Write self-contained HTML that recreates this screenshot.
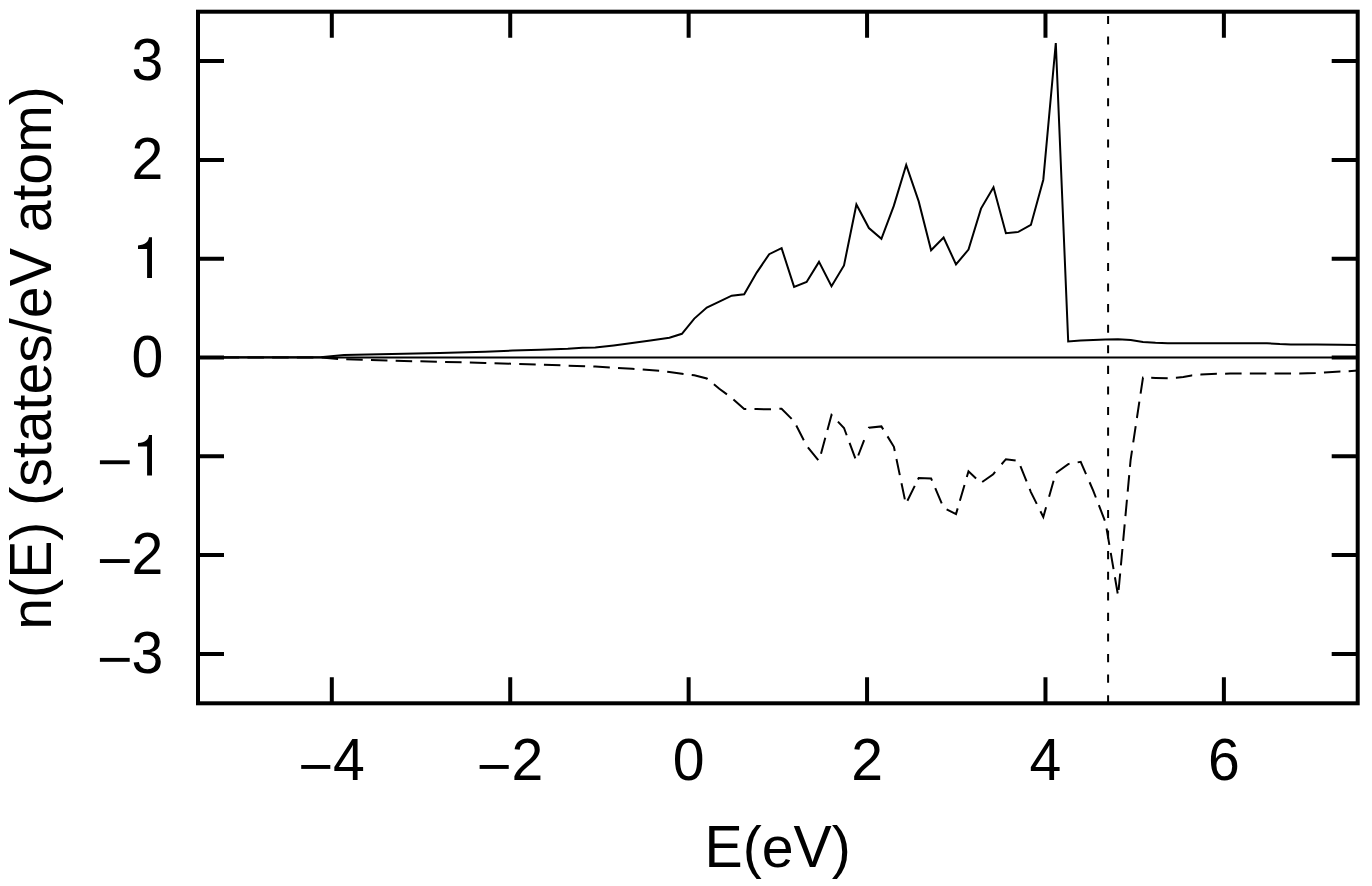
<!DOCTYPE html>
<html><head><meta charset="utf-8"><title>DOS</title>
<style>html,body{margin:0;padding:0;background:#fff;overflow:hidden;}svg{display:block;position:absolute;left:0;top:0;}</style>
</head><body>
<svg width="1372" height="886" viewBox="0 0 1372 886">
<rect x="0" y="0" width="1372" height="886" fill="#fff"/>
<line x1="198.0" y1="357.50" x2="1357.7" y2="357.50" stroke="#000" stroke-width="1.9"/>
<polyline points="198.0,357.3 320.5,357.2 344.0,354.9 440.0,352.9 457.6,352.5 485.1,351.7 512.7,350.6 540.2,349.7 567.8,348.8 582.5,347.8 595.3,347.5 613.7,345.5 632.1,343.1 650.4,340.5 669.4,337.8 681.9,333.8 694.3,318.6 706.8,307.6 719.3,301.7 731.7,295.7 744.2,294.3 756.7,272.6 769.2,254.2 781.6,248.2 794.1,286.9 806.6,282.0 819.0,261.9 831.5,286.3 844.0,265.4 856.4,204.5 868.9,228.0 881.4,238.8 893.8,205.9 906.2,164.9 918.7,201.4 931.1,250.3 943.6,237.5 956.0,264.4 968.5,249.6 981.0,208.6 993.5,187.3 1005.9,233.2 1018.4,231.9 1030.9,224.9 1043.3,179.7 1055.8,43.0 1068.2,341.5 1080.6,340.6 1093.2,339.9 1105.6,339.5 1118.0,339.2 1130.7,339.9 1143.0,341.9 1155.5,342.7 1167.8,343.2 1267.0,343.3 1279.8,344.1 1290.8,344.4 1316.5,344.6 1340.0,344.8 1357.8,345.0" fill="none" stroke="#000" stroke-width="2.0" stroke-linejoin="miter" stroke-miterlimit="4"/>
<path d="M198.00,357.50 L214.50,357.50 M222.72,357.50 L239.22,357.50 M247.44,357.50 L263.94,357.50 M272.16,357.50 L288.66,357.50 M296.88,357.50 L313.38,357.50 M321.60,357.59 L338.00,359.00 L338.04,359.00 M346.25,359.28 L362.00,359.80 L362.74,359.82 M370.96,360.04 L387.45,360.48 M395.67,360.70 L412.16,361.14 M420.38,361.36 L436.88,361.80 M445.09,361.99 L461.59,362.36 M469.81,362.55 L485.10,362.90 L486.30,362.94 M494.52,363.19 L511.01,363.70 M519.23,363.95 L535.72,364.46 M543.93,364.74 L560.42,365.33 M568.64,365.63 L585.13,366.23 M593.34,366.53 L595.30,366.60 L609.81,367.47 M618.02,367.96 L632.10,368.80 L634.49,368.97 M642.69,369.57 L659.14,370.77 M667.20,371.73 L669.40,372.00 L681.90,373.80 L683.54,374.00 M691.70,374.99 L694.30,375.30 L706.80,378.50 L707.55,379.12 M713.90,384.35 L719.30,388.80 L726.96,394.42 M733.44,399.46 L744.20,409.10 L746.26,409.10 M754.48,409.10 L756.70,409.10 L769.20,409.20 L770.97,409.13 M779.40,408.79 L781.60,408.70 L791.67,418.85 M796.28,425.55 L803.80,440.23 M807.90,447.32 L818.25,460.17 M820.99,453.78 L825.30,437.85 M827.45,429.92 L831.50,415.00 L832.22,415.75 M837.92,421.68 L844.00,428.00 L846.69,435.24 M849.56,442.95 L855.31,458.41 M858.23,455.50 L864.14,440.10 M868.73,428.13 L868.90,427.70 L881.40,426.40 L883.21,429.36 M887.51,436.36 L893.90,446.80 L894.77,450.97 M896.45,459.02 L899.81,475.17 M901.49,483.22 L904.86,499.37 M907.40,500.68 L914.76,485.91 M917.94,479.52 L918.70,478.00 L931.10,478.40 L932.04,480.60 M935.25,488.17 L941.71,503.35 M946.62,509.34 L956.00,514.10 L957.68,508.36 M959.88,500.81 L964.51,484.97 M966.81,477.08 L968.50,471.30 L976.09,478.52 M982.20,482.00 L993.20,474.20 L995.15,471.90 M1001.60,464.27 L1005.90,459.20 L1015.65,460.60 M1020.43,466.05 L1026.58,481.36 M1029.65,488.99 L1030.90,492.10 L1036.76,503.87 M1040.42,511.23 L1043.30,517.00 L1046.05,507.34 M1049.09,496.68 L1053.60,480.81 M1055.96,472.98 L1068.20,464.10 L1069.56,463.85 M1077.64,462.36 L1080.70,461.80 L1086.03,474.08 M1089.58,482.25 L1093.20,490.60 L1095.88,497.50 M1098.85,505.16 L1104.82,520.54 M1106.57,528.54 L1109.36,544.81 M1110.75,552.91 L1113.54,569.17 M1114.92,577.27 L1117.71,593.54 M1118.64,589.90 L1120.16,573.47 M1120.90,565.42 L1122.41,548.99 M1123.16,540.80 L1124.67,524.37 M1125.43,516.19 L1126.94,499.76 M1127.69,491.57 L1129.21,475.14 M1129.96,466.95 L1130.60,460.00 L1132.01,450.59 M1133.24,442.46 L1135.69,426.14 M1136.91,418.02 L1139.36,401.70 M1140.58,393.57 L1143.00,377.50 L1143.25,377.51 M1151.20,377.76 L1155.60,377.90 L1167.70,378.19 M1175.91,377.82 L1176.30,377.80 L1183.30,376.90 L1191.60,375.40 L1192.21,375.35 M1200.40,374.63 L1200.80,374.60 L1216.80,373.80 L1216.88,373.80 M1225.10,373.67 L1230.00,373.60 L1241.60,373.60 M1249.82,373.60 L1266.32,373.60 M1274.54,373.60 L1291.04,373.60 M1299.26,373.60 L1299.50,373.60 L1315.60,372.90 L1315.75,372.89 M1323.95,372.42 L1324.30,372.40 L1340.40,371.60 L1340.43,371.60 M1348.64,371.13 L1357.80,370.60" fill="none" stroke="#000" stroke-width="2.0" stroke-linejoin="miter" stroke-miterlimit="4"/>
<line x1="1108.1" y1="703.3" x2="1108.1" y2="11.7" stroke="#000" stroke-width="2.0" stroke-dasharray="8.1 12.485"/>
<path d="M331.81,703.3 V677.30 M331.81,11.7 V37.70 M510.23,703.3 V677.30 M510.23,11.7 V37.70 M688.64,703.3 V677.30 M688.64,11.7 V37.70 M867.06,703.3 V677.30 M867.06,11.7 V37.70 M1045.47,703.3 V677.30 M1045.47,11.7 V37.70 M1223.89,703.3 V677.30 M1223.89,11.7 V37.70 M198.0,653.90 H224.00 M1357.7,653.90 H1331.70 M198.0,555.10 H224.00 M1357.7,555.10 H1331.70 M198.0,456.30 H224.00 M1357.7,456.30 H1331.70 M198.0,357.50 H224.00 M1357.7,357.50 H1331.70 M198.0,258.70 H224.00 M1357.7,258.70 H1331.70 M198.0,159.90 H224.00 M1357.7,159.90 H1331.70 M198.0,61.10 H224.00 M1357.7,61.10 H1331.70" fill="none" stroke="#000" stroke-width="4"/>
<rect x="198.0" y="11.7" width="1159.70" height="691.60" fill="none" stroke="#000" stroke-width="4"/>
<g font-family="'Liberation Sans', sans-serif" font-size="57.2" fill="#000" style="font-kerning:none"><text transform="translate(333.01 780.3) scale(1 1.025)" text-anchor="start">4</text>
<text transform="translate(511.43 780.3) scale(1 1.025)" text-anchor="start">2</text>
<text transform="translate(688.64 780.3) scale(1 1.025)" text-anchor="middle">0</text>
<text transform="translate(867.06 780.3) scale(1 1.025)" text-anchor="middle">2</text>
<text transform="translate(1045.47 780.3) scale(1 1.025)" text-anchor="middle">4</text>
<text transform="translate(1223.89 780.3) scale(1 1.025)" text-anchor="middle">6</text>
<text transform="translate(163.4 673.20) scale(1 1.025)" text-anchor="end">3</text>
<text transform="translate(163.4 574.40) scale(1 1.025)" text-anchor="end">2</text>
<text transform="translate(163.4 376.80) scale(1 1.025)" text-anchor="end">0</text>
<text transform="translate(163.4 179.20) scale(1 1.025)" text-anchor="end">2</text>
<text transform="translate(163.4 80.40) scale(1 1.025)" text-anchor="end">3</text>
<g transform="translate(777.65 867.1)"><text transform="translate(-73.10 0) scale(1 1.044)" text-anchor="start" xml:space="preserve">E</text><text transform="translate(-34.95 0) scale(1 1)" text-anchor="start" xml:space="preserve">(e</text><text transform="translate(15.90 0) scale(1 1.044)" text-anchor="start" xml:space="preserve">V</text><text transform="translate(54.05 0) scale(1 1)" text-anchor="start" xml:space="preserve">)</text></g>
<g transform="translate(51.4 357.90) rotate(-90)"><text transform="translate(-271.79 0) scale(1 1)" text-anchor="start" xml:space="preserve">n(</text><text transform="translate(-220.94 0) scale(1 1.044)" text-anchor="start" xml:space="preserve">E</text><text transform="translate(-182.78 0) scale(1 1)" text-anchor="start" xml:space="preserve">) (states/e</text><text transform="translate(71.53 0) scale(1 1.044)" text-anchor="start" xml:space="preserve">V</text><text transform="translate(109.68 0) scale(1 1)" text-anchor="start" xml:space="preserve"> atom)</text></g>
<rect x="301.21" y="765.00" width="29.10" height="3.9"/>
<rect x="479.63" y="765.00" width="29.10" height="3.9"/>
<rect x="99.90" y="657.90" width="29.80" height="3.9"/>
<rect x="99.90" y="559.10" width="29.80" height="3.9"/>
<path transform="translate(152.0 475.60)" d="M0,0 L0,-40.7 L-3.0,-40.7 C-3.8,-36.0 -6.5,-33.3 -14.0,-32.6 L-14.0,-29.0 L-4.9,-29.0 L-4.9,0 Z"/>
<rect x="99.90" y="460.30" width="29.80" height="3.9"/>
<path transform="translate(152.0 278.00)" d="M0,0 L0,-40.7 L-3.0,-40.7 C-3.8,-36.0 -6.5,-33.3 -14.0,-32.6 L-14.0,-29.0 L-4.9,-29.0 L-4.9,0 Z"/></g>
</svg>
</body></html>
